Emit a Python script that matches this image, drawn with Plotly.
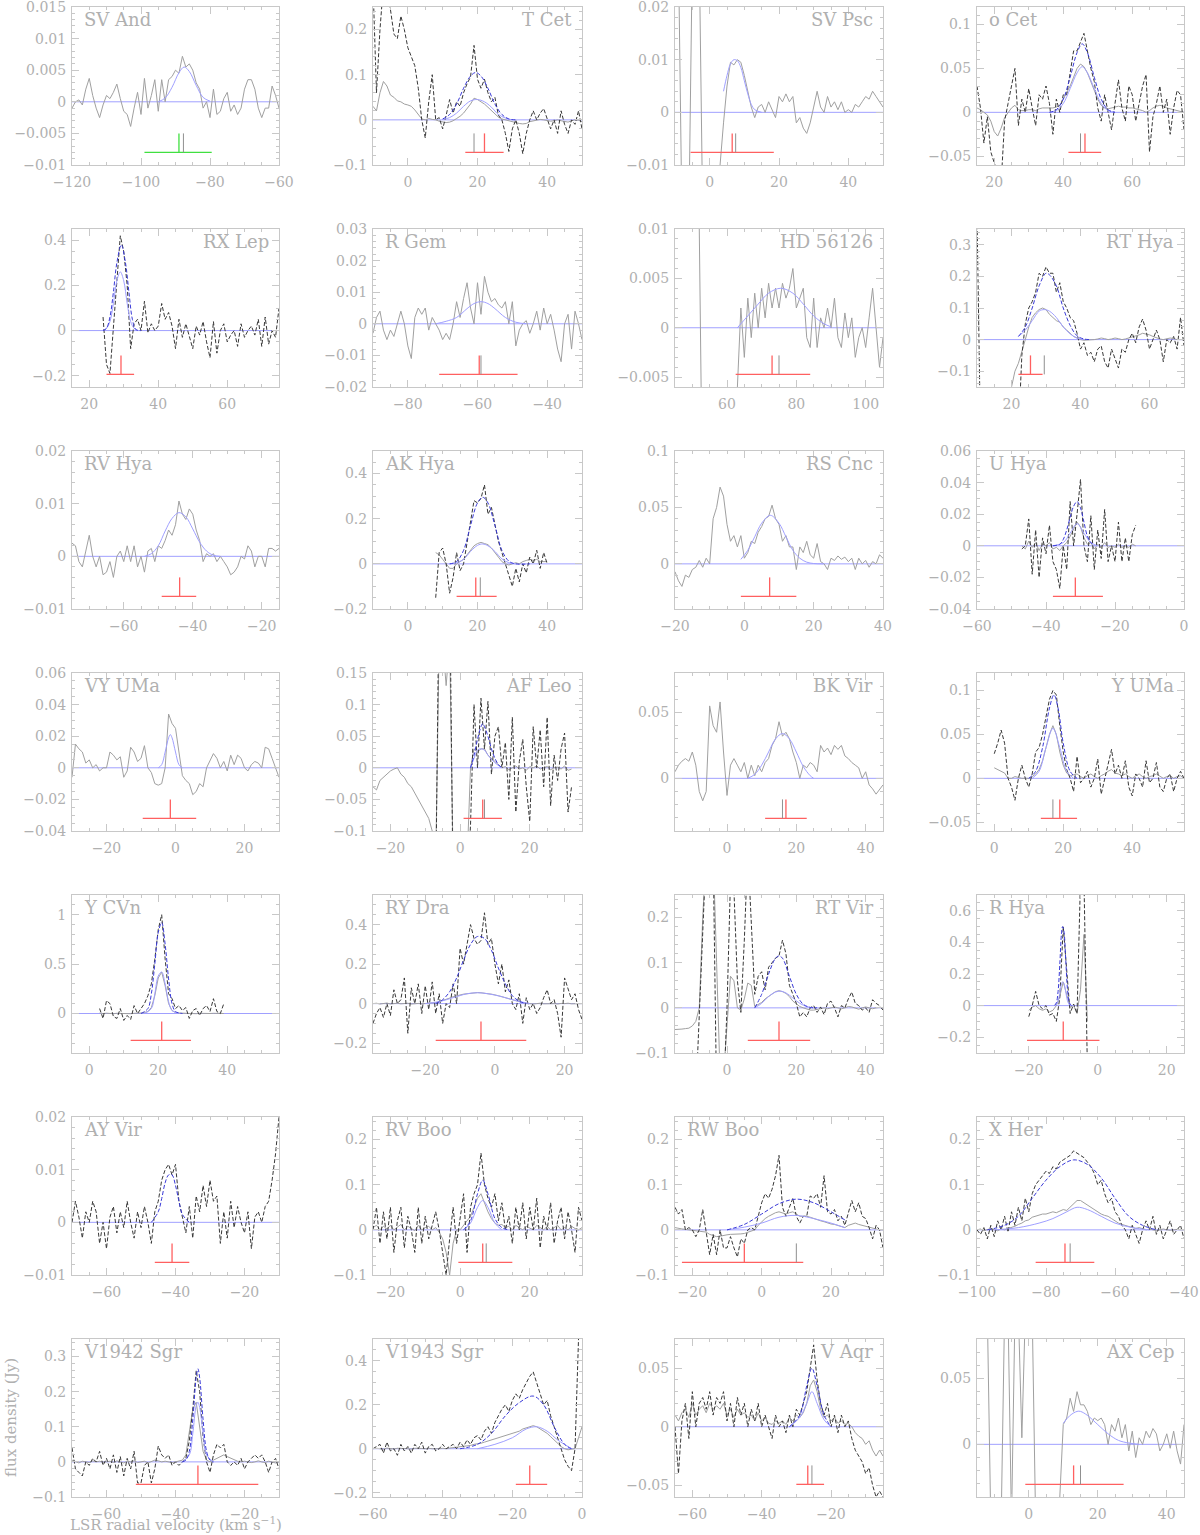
import plotly.graph_objects as go

MJY = 0.001  # all spectra and fits below are typed in mJy, one channel per km/s

# ---------------- SV And ----------------
sv_and_v0 = -120
sv_and_grey = [-1, 0, 0.3, -0.5, 2, 3.7, 1, -1, -2.5, -0.5,
               1, 0.5, 1.5, 2.8, 0.5, -1.5, -2, -3.9, -1, 1.5,
               -2, 3.7, -1, 1, 3.5, -1.5, 3.5, 0, 3.5, 4,
               5, 4.5, 7.2, 5.5, 6, 5, 3, 2, -1, 0,
               -2.5, 2, -2, -1.5, 0.5, 1.5, -1.5, -0.5, -2, -1,
               2, 3.5, 3.5, 2, -1, -2.5, -1, -1, 2.5, 1,
               -1]
sv_and_fit = [(-95, 0), (-93, 0.6), (-91, 2.3), (-89, 4.6), (-87.5, 5.5), (-86, 4.8), (-84, 2.6), (-82, 0.7), (-80, 0.1)]
sv_and_marks = (-99, -79.5, -89, -87.7)

# ---------------- T Cet ----------------
t_cet_v0 = -10
t_cet_grey = [30, 20, 60, 85, 75, 55, 50, 42, 40, 35,
              33, 30, 22, 12, 2, 0, 3, 1, 0, -3,
              -5, -6, -5, -2, 3, 8, 15, 25, 35, 48,
              45, 40, 35, 28, 20, 12, 6, 2, 0, -3,
              -5, -7, -8, -9, -8, -4, -2, 0, 1, 0,
              -1, -3, -2, 0, -2, -4, -5, -2, 0, -1,
              -4]
t_cet_dash = [300, 60, 200, 300, 300, 250, 190, 180, 230, 200,
              160, 140, 120, 70, 0, -40, 40, 100, 0, 5,
              -20, 10, 45, 15, 40, 30, 60, 80, 95, 165,
              90, 70, 90, 60, 40, 50, 10, 0, -30, -70,
              -20, 0, -30, -75, -30, 0, 20, 0, 15, 25,
              0, -20, 0, -30, 20, -10, -30, 0, -10, 20,
              -20]
t_cet_fitd = [(10, 2), (12, 12), (14, 35), (16, 70), (18, 97), (19.5, 105), (21, 97), (23, 70), (25, 35), (27, 12), (29, 2), (31, 0)]
t_cet_fit = [(10, 1), (12, 5), (14, 15), (16, 30), (18, 42), (20, 45), (22, 40), (24, 28), (26, 12), (28, 4), (30, 0)]
t_cet_marks = (16.5, 27.5, 22, 19)

# ---------------- SV Psc ----------------
sv_psc_v0 = -10
sv_psc_grey = [30, 30, -20, -20, -20, 30, 30, 30, -20, -20,
               -20, -20, -25, -10, -2, 5, 9.5, 9, 10, 9.5,
               7, 4, 1, -1, 1, 1.5, 0, 2, 0.5, -1,
               3, 2, 3.5, 2, 3, -2, -1, -3, -4, -2,
               1, 4, 1, 0, 3, 1, 2, 0.5, 2, 0,
               0.5, 0, 1.5, 1, 2, 3, 2.5, 4, 3, 2,
               1]
sv_psc_fit = [(4, 4), (5, 7), (6, 9.2), (7, 10), (8, 9.8), (9, 8.5), (10, 6), (11, 3.5), (12, 1.5), (13, 0.5), (15, 0)]
sv_psc_marks = (-5.5, 18.5, 6.5, 7.5)

# ---------------- o Cet ----------------
o_cet_v0 = 15
o_cet_grey = [5, 3, 0, -3, -10, -22, -27, -18, -6, 0,
              5, 8, 3, 2, 2, 3, 3, 2, 4, 5,
              5, 5, 5, 6, 8, 15, 22, 30, 40, 50,
              55, 52, 45, 35, 25, 15, 8, 5, 4, 5,
              6, 7, 6, 6, 5, 5, 4, 3, 2, 0,
              2, 5, 7, 8, 7, 5, 4, 3, 2, 1,
              0]
o_cet_dash = [30, 5, -35, -5, -45, -60, -70, -80, -10, 10,
              30, 50, -15, 15, 0, 27, 5, -15, 20, 15,
              30, 10, -25, 15, 0, 20, 20, 45, 70, 70,
              80, 90, 70, 50, 35, 5, -10, 20, 0, -20,
              10, 37, 5, -10, 30, 20, -10, 10, 30, 43,
              -45, -5, 10, 30, 0, 15, -25, 5, 25, 20,
              -20]
o_cet_fitd = [(36, 0), (38, 3), (40, 15), (42, 40), (44, 68), (45.5, 78), (47, 68), (49, 40), (51, 15), (53, 3), (55, 0)]
o_cet_fit = [(36, 0), (38, 2), (40, 10), (42, 27), (44, 45), (45.5, 52), (47, 45), (49, 27), (51, 10), (53, 2), (55, 0)]
o_cet_marks = (41.5, 51, 46.3, 45)

# ---------------- RX Lep ----------------
rx_lep_v0 = 24
rx_lep_dash = [60, -150, -190, 0, 200, 420, 350, 200, -80, 30,
               50, 0, 130, -10, 30, 0, 20, 120, 50, 80,
               20, -80, 50, -30, 30, -20, -80, 20, -20, 40,
               -50, -120, 40, -100, 0, 30, -50, -20, 0, -70,
               30, -30, 0, 20, -20, 50, -70, 60, -60, 0,
               -30, 100]
rx_lep_fitd = [(24, 0), (25, 10), (26, 60), (27, 170), (28, 300), (29.3, 380), (30.5, 300), (31.5, 170), (32.5, 50), (33.5, 5), (35, 0)]
rx_lep_fit = [(24, 0), (25, 10), (26, 40), (27, 120), (28, 220), (29, 260), (30, 220), (31, 120), (32, 40), (33, 10), (34, 0)]
rx_lep_marks = (25, 33, 29.2, None)

# ---------------- R Gem ----------------
r_gem_v0 = -90
r_gem_grey = [-3, 2, 4, -2, -5, -2, -4, 0, 4, 0,
              -7, -11, 2, 5, 3, 5, -2, 2, 0, -2,
              -5, -3, -5, 0, 7, 2, 8, 13, 5, 0,
              13, 3, 15, 10, 7, 8, 6, 5, 7, 0,
              7, -7, -2, 0, 1, -3, 0, 4, -2, 5,
              0, 3, -2, -8, -12, 0, 3, -8, 4, 0,
              -5]
r_gem_fit = [(-72, 0), (-69, 0.8), (-66, 2), (-63, 4.8), (-61, 6.4), (-59, 7), (-57, 6.4), (-55, 4.8), (-52, 2), (-49, 0.5), (-46, 0)]
r_gem_marks = (-71, -48.5, -59.5, -59)

# ---------------- HD 56126 ----------------
hd56126_v0 = 45
hd56126_grey = [12, 12, 12, 12, 12, 12, 12, 10, -20, -20,
                -20, -20, -20, -20, -20, -20, -20, -20, -6, 2,
                -3, 3, -1, 3.5, 0, 4, 1, 4.5, 2, 4,
                2, 4.5, 3, 4, 6, 2, 3, 4, -1, -2,
                3, -2, 1, 0, 2, 0, 3, -1, -2, 1.5,
                -1, 1, -3, -1, 0, -2, 1, 4, 0, -4,
                -1]
hd56126_fit = [(63, 0), (66, 1.2), (69, 2.4), (72, 3.5), (75.5, 4), (79, 3.5), (82, 2.4), (85, 1.2), (88, 0.4), (90, 0.1)]
hd56126_marks = (62.5, 84, 73, 75)

# ---------------- RT Hya ----------------
rt_hya_v0 = 10
rt_hya_dash = [400, -300, None, None, None, None, None, None, None, None, None, None,
               -300, -50, 50, 100, 120, 150, 210, 200, 230, 210,
               210, 150, 180, 120, 100, 70, 60, 20, -30, -10,
               -50, -40, -70, -30, -20, -70, -90, -30, -60, -90,
               -30, -40, 0, 20, -10, 40, 65, 30, -30, 0,
               30, 0, -70, 0, -10, 10, -30, 70, -20]
rt_hya_g0 = 19
rt_hya_grey = [-200, -150, -100, -75, -40, 0, 40, 70, 85, 95,
               100, 95, 80, 70, 60, 55, 40, 30, 20, 10,
               5, 0, -2, -2, -1, 0, 2, 5, 3, 0,
               2, 5, 3, 0, 2, 5, 8, 10, 15, 20,
               18, 15, 10, 5, 2, 0, 3, 5, 3, 0, 0, 0]
rt_hya_fitd = [(22, 10), (24, 40), (26, 100), (28, 170), (30, 210), (31, 205), (33, 170), (35, 100), (37, 45), (39, 12), (41, 2), (43, 0)]
rt_hya_fit = [(22, 10), (24, 30), (26, 60), (28, 90), (29.5, 95), (31, 90), (33, 70), (35, 40), (37, 18), (39, 5), (41, 0)]
rt_hya_marks = (22, 29, 25.5, 29.5)

# ---------------- RV Hya ----------------
rv_hya_v0 = -75
rv_hya_grey = [2.5, 2, -1, -2, 1, 4, 0, -2, 0, -3.5,
               -3, -1, -4, 0, 1, -1, 2, -1, 2, -2,
               0, -3, 1, 1.5, -1, 2, 1.5, 3, 5, 4,
               6, 10.5, 8, 7, 9, 8, 5, 3, -1, 0.5,
               0, 0.5, -1, 0, -1, -2, -3.5, -3, -2, 0,
               -0.5, 2, 1, -2, 0, 0, -2, 1.5, 1.5, 1, 1.5]
rv_hya_fit = [(-54, 0), (-52, 0.5), (-50, 2), (-48, 4.8), (-46, 7.2), (-44, 8.3), (-42, 7.5), (-40, 5.2), (-38, 2.7), (-36, 1), (-34, 0.2), (-32, 0)]
rv_hya_marks = (-49, -39, -43.8, None)

# ---------------- AK Hya ----------------
ak_hya_v0 = 8
ak_hya_dash = [-150, 50, 70, 0, -130, -60, 50, -30, 0, 100,
               200, 280, 270, 290, 350, 220, 250, 180, 100, 50,
               0, -50, -100, -20, -80, 0, -40, 30, 0, 60,
               -20, 50, 0]
ak_hya_grey = [50, 40, 20, 0, -20, -20, 0, 10, 20, 40,
               60, 80, 90, 95, 90, 85, 70, 50, 30, 10,
               0, -5, 0, 5, 0, 10, 15, 20, 15, 20,
               10, 10, 10]
ak_hya_fitd = [(12, 0), (14, 10), (16, 60), (18, 170), (20, 270), (21.5, 295), (23, 270), (25, 170), (27, 60), (29, 12), (31, 0), (35, 0)]
ak_hya_fit = [(12, 0), (14, 5), (16, 20), (18, 55), (20, 82), (21.5, 88), (23, 80), (25, 55), (27, 22), (29, 5), (31, 0)]
ak_hya_marks = (14, 25.5, 19.5, 20.8)

# ---------------- RS Cnc ----------------
rs_cnc_v0 = -20
rs_cnc_grey = [-7, -15, -20, -10, -12, -5, -3, 3, -3, 5,
               0, 40, 50, 68, 60, 35, 20, 25, 15, 25,
               5, 10, 20, 18, 28, 33, 40, 42, 52, 40,
               35, 20, 25, 15, 15, -5, 15, 10, 20, 8,
               5, 18, 2, 0, -5, 5, 3, 7, 4, 6,
               2, 5, -5, 5, 0, 3, -3, 2, 0, 8,
               5]
rs_cnc_fit = [(-1, 4), (1, 12), (3, 24), (5, 36), (7.5, 43), (10, 36), (12, 24), (14, 12), (16, 5), (18, 1.5), (20, 0.3), (23, 0)]
rs_cnc_marks = (-1, 15, 7.3, None)

# ---------------- U Hya ----------------
u_hya_v0 = -47
u_hya_dash = [-2, 0, 17, -18, 10, -20, 5, -5, 13, -10,
              -15, -27, 0, -15, 28, 0, 20, 42, 0, -10,
              19, -15, 10, -8, 23, -10, 0, -10, 15, -10,
              5, -10, 7, 13]
u_hya_grey = [0, -2, 3, -1, 2, -3, 1, 0, 2, -2,
              -1, -3, 0, 2, 6, 11, 15, 12, 5, 1,
              2, -2, 1, -1, 2, -1, 0, -1, 1, -1,
              0, -1, 1, 0]
u_hya_fitd = [(-38, 0), (-36, 1), (-35, 4), (-34, 10), (-33, 18), (-32, 25), (-31, 28), (-30, 24), (-29, 15), (-28, 6), (-27, 2), (-26, 0)]
u_hya_fit = [(-38, 0), (-35, 2), (-33, 8), (-31, 14), (-29, 8), (-27, 2), (-25, 0)]
u_hya_marks = (-38, -23.5, -31.5, None)

# ---------------- VY UMa ----------------
vy_uma_v0 = -30
vy_uma_grey = [-6, 15, 12, 10, 3, 5, 0, 2, -2, 0,
               0, 10, 8, 5, 7, -6, -2, 13, 10, 4,
               6, 14, 0, -3, -10, -11, -10, 0, 34, 28,
               25, 10, -5, -8, -10, -17, -15, -10, -12, 0,
               5, 9, 6, 0, 4, -2, 8, 2, 8, 6,
               0, -2, 2, 4, 3, 0, 13, 12, 6, 0,
               -6]
vy_uma_fit = [(-5, 0), (-4, 2), (-3, 10), (-2, 19), (-1.5, 21), (-1, 19), (0, 10), (1, 2), (2, 0)]
vy_uma_marks = (-9.5, 6, -1.5, None)

# ---------------- AF Leo ----------------
af_leo_v0 = -25
af_leo_grey = [-30, -35, -20, -15, -10, -5, -2, 0, -10, -15,
               -25, -30, -40, -50, -60, -70, -80, -100, -150, 200,
               200, 130, 200, -150, -150, -150, -150, -150, 0, 30,
               25, 30, 30, 20, 15, 10, 5, 0, 2, -3,
               0, 3, -2, 0, -4, 2, 0, 3, -2, 0,
               2, -3, 0, 1, -2, 3, -4, -2]
af_leo_d0 = -7
af_leo_dash = [-200, 300, 300, 300, 300, -200, -200, -200, -200, -200,
               -90, 100, 0, 110, 30, 105, -10, 50, 65, 0,
               40, -50, 80, -70, 10, 45, -30, -85, 65, 0,
               60, -30, 80, -60, 20, -20, 30, 55, -70, -30]
af_leo_fitd = [(3, 0), (4, 20), (5, 45), (6, 65), (6.5, 70), (7, 65), (8, 50), (9, 30), (10, 15), (11, 5), (12, 0)]
af_leo_fit = [(3, 0), (4, 15), (5, 28), (6, 30), (7, 28), (8, 20), (10, 8), (12, 0)]
af_leo_marks = (1, 12, 6.5, 7)

# ---------------- BK Vir ----------------
bk_vir_v0 = -15
bk_vir_grey = [5, 10, 13, 15, 13, 20, 10, -10, -17, -10,
               55, 40, 35, 58, 20, -13, 10, 15, 10, 5,
               12, 0, 10, 2, 10, 5, 12, 15, 25, 30,
               43, 32, 35, 30, 20, 12, 0, 10, 8, 12,
               10, 5, 25, 20, 23, 18, 25, 22, 25, 17,
               15, 12, 10, 8, 0, 5, -5, -8, -12, -8,
               -5]
bk_vir_fit = [(6, 0), (8, 3), (10, 10), (12, 20), (14, 30), (16, 34), (18, 30), (20, 20), (22, 9), (24, 2), (25, 0)]
bk_vir_marks = (11, 23, 17, 16)

# ---------------- Y UMa ----------------
y_uma_v0 = 0
y_uma_dash = [28, 40, 55, 40, 0, -10, -25, 0, 15, 0,
              -10, 5, 30, 35, 50, 70, 90, 100, 95, 60,
              30, 10, 0, -15, 25, -5, 0, 8, -10, 0,
              22, -18, 0, 15, 33, 5, 15, 0, 20, -10,
              -20, 5, 0, -10, 20, -5, 0, 18, -10, -15,
              0, 5, -15, 0, 8, 0]
y_uma_grey = [12, 10, 8, 6, 0, 0, 2, 1, 0, 0,
              0, 2, 5, 10, 20, 35, 50, 60, 50, 30,
              15, 6, 3, 4, 5, 2, 0, 3, 5, 2,
              0, 3, 5, 8, 10, 6, 5, 3, 5, 2,
              0, 3, 5, 2, 0, 2, 3, 5, 2, 0,
              2, 3, 0, 2, 3, 0]
y_uma_fitd = [(10, 0), (12, 8), (14, 35), (16, 80), (17.3, 95), (18.5, 80), (20, 40), (22, 8), (24, 0)]
y_uma_fit = [(11, 0), (13, 8), (15, 35), (17, 57), (19, 35), (21, 8), (23, 0)]
y_uma_marks = (13.5, 24, 19, 17)

# ---------------- Y CVn ----------------
y_cvn_v0 = 3
y_cvn_dash = [50, -50, 130, 100, -30, -50, 50, -70, -20, -60,
              80, 0, 50, 100, 180, 300, 550, 850, 1000, 550,
              200, 150, 50, 80, 30, 60, -50, 30, 50, -20,
              50, 80, 20, 150, 20, 0, 100]
y_cvn_grey = [5, 0, 3, 0, -2, 2, 0, -3, 0, -2,
              2, 0, 5, 10, 20, 60, 180, 360, 420, 280,
              100, 30, 10, 5, 3, 0, 2, 0, -2, 2,
              0, 3, 0, 2, 0, -2, 0]
y_cvn_fitd = [(15, 0), (17, 50), (18, 200), (19, 500), (20, 820), (21, 920), (22, 700), (23, 350), (24, 100), (25, 20), (27, 0)]
y_cvn_fit = [(16, 0), (18, 50), (19, 200), (20, 380), (21, 420), (22, 300), (23, 120), (24, 30), (26, 0)]
y_cvn_marks = (12, 29.5, 21, None)

# ---------------- RY Dra ----------------
ry_dra_v0 = -35
ry_dra_dash = [-100, -50, -20, -70, 0, -60, 70, 0, 20, 130,
               -150, 80, 0, 100, -50, 90, -30, 110, -50, 50,
               -100, 0, -20, 100, 0, 280, 200, 300, 400, 330,
               300, 320, 460, 300, 330, 200, 100, 200, 60, 120,
               0, -30, 50, -100, 30, -30, 0, -50, -20, 30,
               70, 0, 20, -50, -170, 130, 80, 20, 50, -30,
               -80]
ry_dra_grey = [0, 2, -2, 0, 3, -2, 0, 2, -1, 0,
               2, -2, 0, 1, -1, 0, 2, 3, 5, 10,
               15, 20, 28, 35, 40, 45, 48, 50, 53, 55,
               56, 55, 54, 50, 48, 45, 40, 35, 30, 25,
               18, 12, 8, 5, 2, 0, -2, 0, 2, -1,
               0, 2, 0, -2, 1, 0, 2, -1, 0, 1,
               0]
ry_dra_fitd = [(-17, 0), (-15, 20), (-13, 60), (-11, 130), (-9, 220), (-7, 300), (-5, 340), (-3, 330), (-1, 270), (1, 180), (3, 100), (5, 40), (7, 12), (9, 0)]
ry_dra_fit = [(-20, 0), (-16, 10), (-12, 30), (-8, 50), (-5, 55), (-2, 50), (2, 35), (6, 15), (10, 0)]
ry_dra_marks = (-17, 9, -4, None)

# ---------------- RT Vir ----------------
rt_vir_v0 = -15
rt_vir_grey = [-48, -48, -47, -46, -45, -40, -30, 0, 200, 350,
               350, 350, 100, -150, -150, -50, 70, 60, 0, -5,
               20, 55, 50, 3, 8, 12, 20, 26, 32, 36,
               38, 36, 32, 25, 15, 8, 3, 0, -3, -5,
               -5, -4, -2, 0, -2, 0, 2, 0, -2, 0,
               3, 2, 0, -3, 0, 2, 0, -2, 0, 1,
               0]
rt_vir_d0 = -9
rt_vir_dash = [-200, -20, 150, 350, 350, 350, -200, -200, -200, 0,
               280, 260, 60, -10, 150, 350, 200, 30, 70, 80,
               40, 90, 100, 110, 115, 150, 120, 50, 30, 10,
               -20, -10, -20, 0, 5, -10, 2, -15, 10, 15,
               0, -20, 5, 0, 20, 35, 10, 5, -5, 0,
               -10, 18, 10, 5, -5]
rt_vir_fitd = [(8, 0), (10, 30), (12, 75), (14, 110), (15, 115), (16, 110), (18, 70), (20, 30), (22, 8), (24, 1), (26, 0)]
rt_vir_fit = [(8, 0), (10, 10), (12, 25), (14, 35), (15.5, 37), (17, 33), (19, 22), (21, 10), (23, 3), (25, 0)]
rt_vir_marks = (6, 24, 15, None)

# ---------------- R Hya ----------------
r_hya_v0 = -20
r_hya_dash = [-70, 0, 90, 0, -20, 0, -60, -50, -100, 50,
              500, 200, -50, 10, -50, 800, 800, -400]
r_hya_grey = [-30, -10, 0, -20, -30, -20, -40, -30, 0, 60,
              150, 60, -10, 0, -50, 100, 450, -100]
r_hya_fitd = [(-12.5, 2), (-12, 18), (-11.5, 90), (-11, 260), (-10.5, 460), (-10.2, 500), (-9.8, 470), (-9.3, 300), (-8.8, 110), (-8.3, 25), (-7.8, 3), (-7, 0)]
r_hya_fit = [(-12.5, 1), (-12, 6), (-11.5, 27), (-11, 78), (-10.5, 138), (-10.2, 150), (-9.8, 140), (-9.3, 90), (-8.8, 33), (-8.3, 8), (-7.8, 1), (-7, 0)]
r_hya_marks = (-20.5, 0.5, -10, None)

# ---------------- AY Vir ----------------
ay_vir_v0 = -70
ay_vir_dash = [0, 4, 1, -3, 2, 0, 4, 2, -4, 0,
               -5, 1, 3, -2, 2, -1, 4, 0, -3, 2,
               -1, 3, 0, -4, 2, 4, 8, 10, 11, 9,
               11, 4, 1, -2, 3, -3, 5, 2, 7, 3,
               8, 4, 5, -4, 2, -3, 4, -1, 3, 0,
               -2, 2, -5, 1, 2, 0, 3, 4, 8, 13,
               20]
ay_vir_fitd = [(-47, 0), (-45, 2), (-44, 4.5), (-43, 7.5), (-42, 9), (-41, 9), (-40, 7), (-39, 4), (-38, 1.5), (-36, 0)]
ay_vir_marks = (-46, -36, -41, None)

# ---------------- RV Boo ----------------
rv_boo_v0 = -25
rv_boo_grey = [5, 10, 0, 8, 2, 10, 0, 5, 12, 0,
               8, 3, -2, 10, 0, 5, 8, 0, 5, -5,
               -20, -50, -100, -30, 0, 0, 10, 20, 30, 50,
               70, 80, 60, 40, 25, 15, 10, 12, 5, 8,
               0, 10, 5, 0, 8, 3, 0, 10, 5, 0,
               8, 0, 5, 10, 0, 5, 0, 8, 3, 0,
               5]
rv_boo_dash = [0, 50, -30, 40, -20, 50, -50, 20, 50, -40,
               30, 0, -50, 50, -30, 30, -20, 10, 40, 0,
               -50, -100, -20, 50, -30, 20, 80, -50, 50, 80,
               100, 170, 100, 70, 50, 80, 20, 60, 0, 30,
               -30, 50, 0, 60, -20, 50, 0, 70, -40, 30,
               0, 60, -30, 20, 50, -20, 40, 0, -50, 50,
               20]
rv_boo_fitd = [(1, 0), (3, 20), (5, 80), (6.5, 110), (8, 80), (10, 25), (12, 5), (14, 0)]
rv_boo_fit = [(1, 0), (3, 15), (5, 50), (6.5, 65), (8, 50), (10, 15), (12, 0)]
rv_boo_marks = (-0.5, 15, 6.5, 7.5)

# ---------------- RW Boo ----------------
rw_boo_v0 = -25
rw_boo_dash = [50, 35, 45, 0, 5, 0, -15, 0, 45, -10,
               -55, -10, -55, 0, -40, -40, -15, -40, -60, -20,
               -30, 0, 5, 0, 30, 60, 80, 70, 90, 120,
               165, 50, 30, 50, 70, 30, 15, 30, 30, 75,
               70, 80, 50, 120, 40, 35, 45, 20, 30, 10,
               35, 65, 40, 60, 30, 25, 5, -20, 10, 0,
               -40]
rw_boo_grey = [5, 3, 2, 1, 0, 0, -1, -2, -3, -5,
               -10, -12, -15, -14, -12, -11, -10, -10, -10, -9,
               -8, -5, -3, 0, 10, 18, 25, 30, 35, 38,
               40, 38, 35, 38, 40, 35, 30, 30, 30, 28,
               25, 23, 20, 18, 15, 13, 12, 10, 8, 5,
               10, 12, 15, 12, 10, 8, 5, 3, 2, 0,
               0]
rw_boo_fitd = [(-10, 0), (-5, 12), (0, 35), (5, 58), (10, 68), (15, 60), (20, 40), (24, 22)]
rw_boo_fit = [(-10, 0), (-5, 6), (0, 15), (5, 28), (10, 32), (15, 25), (20, 15), (24, 5)]
rw_boo_marks = (-23, 12, -5, 10)

# ---------------- X Her ----------------
x_her_v0 = -100
x_her_dash = [0, -10, 5, -20, 10, -15, 20, 0, 30, -5,
              40, 10, 50, 20, 70, 40, 80, 100, 110, 120,
              130, 125, 140, 135, 150, 155, 160, 165, 175, 170,
              165, 160, 150, 140, 125, 100, 110, 80, 60, 70,
              40, 30, 10, 0, -20, 10, -10, -30, 0, 20,
              0, 30, -10, 10, -20, 0, 20, -10, 0, 10,
              -20]
x_her_grey = [0, 2, -2, 0, 3, 0, -2, 2, 0, 3,
              5, 8, 12, 15, 20, 22, 28, 30, 32, 35,
              35, 37, 40, 38, 42, 45, 43, 50, 58, 65,
              65, 60, 55, 50, 45, 40, 35, 32, 30, 25,
              20, 15, 12, 10, 8, 5, 3, 5, 2, 0,
              2, 0, -2, 0, 2, 0, -1, 0, 1, 0,
              0]
x_her_fitd = [(-97, 0), (-92, 10), (-88, 30), (-84, 70), (-80, 110), (-76, 140), (-72, 155), (-68, 145), (-64, 115), (-60, 70), (-56, 30), (-52, 10), (-48, 0)]
x_her_fit = [(-95, 0), (-88, 5), (-82, 15), (-78, 25), (-74, 40), (-71, 50), (-68, 45), (-64, 30), (-60, 15), (-55, 5), (-50, 0)]
x_her_marks = (-83, -66, -74.5, -73)

# ---------------- V1942 Sgr ----------------
v1942_v0 = -70
v1942_dash = [40, -20, -30, -40, 0, -10, 10, 0, 30, -10,
              10, -20, 20, -30, 15, -40, 10, -20, 30, -60,
              -60, -10, 0, -60, -20, 45, 20, 10, 20, -10,
              0, -10, 0, 10, 60, 150, 260, 200, 70, 0,
              -30, 20, 50, 40, 50, 0, -10, 0, -10, 10,
              -20, 0, 10, 20, 10, 20, 0, -30, 0, 10,
              -20]
v1942_grey = [5, 0, -3, 2, 0, -2, 3, 0, 2, -1,
              0, 2, -2, 3, 0, -3, 2, 0, 3, -2,
              0, 2, -3, 0, 5, 3, 0, 2, 0, -2,
              0, 2, 5, 20, 80, 150, 170, 100, 30, 5,
              0, 5, 10, 15, 20, 15, 10, 5, 2, 0,
              2, 0, -2, 0, 3, 0, -2, 2, 0, -3,
              0]
v1942_fitd = [(-38, 0), (-37, 5), (-36, 30), (-35, 120), (-34, 240), (-33.5, 265), (-33, 240), (-32, 120), (-31, 30), (-30, 5), (-29, 0)]
v1942_fit = [(-38, 0), (-36, 20), (-35, 80), (-34, 160), (-33.5, 170), (-33, 155), (-32, 80), (-31, 20), (-29, 0)]
v1942_marks = (-51.5, -16, -33.5, None)

# ---------------- V1943 Sgr ----------------
v1943_v0 = -60
v1943_dash = [0, 10, 20, -20, 30, -10, 0, -30, 20, -10,
              10, -20, 20, 0, 30, -20, 10, 20, -10, 0,
              20, 0, 10, 20, 0, 30, 10, 40, 20, 50,
              60, 40, 80, 100, 70, 120, 150, 180, 200, 170,
              220, 250, 230, 270, 300, 330, 350, 300, 260, 200,
              220, 150, 100, 50, 0, -50, -80, -100, 0, 500,
              800]
v1943_grey = [0, 2, 0, -2, 3, 0, -1, 2, 0, 1,
              0, -2, 2, 0, 1, 0, 2, 0, -1, 0,
              2, 0, 3, 5, 5, 8, 10, 12, 15, 20,
              22, 25, 30, 35, 40, 45, 50, 55, 60, 65,
              70, 75, 80, 90, 95, 100, 105, 100, 90, 80,
              70, 55, 40, 25, 10, 0, -5, -2, 0, 50,
              100]
v1943_fitd = [(-35, 0), (-30, 20), (-26, 70), (-22, 150), (-18, 210), (-14, 240), (-11, 200), (-8, 100), (-5, 20), (-3, 0)]
v1943_fit = [(-30, 0), (-25, 20), (-20, 50), (-16, 90), (-13, 100), (-10, 80), (-7, 40), (-4, 10), (-3, 0)]
v1943_marks = (-19, -10, -15, None)

# ---------------- V Aqr ----------------
v_aqr_v0 = -65
v_aqr_dash = [0, -40, 5, 20, -10, 30, 0, 20, 25, 15,
              30, 10, 25, 20, 30, 5, 20, 0, 25, 10,
              20, 0, 15, 5, 20, 0, 10, 0, -10, 10,
              0, 5, -5, 10, 0, 15, 10, 20, 30, 50,
              70, 40, 20, 10, 20, 0, 10, -5, 10, 0,
              5, -10, -20, -25, -30, -40, -35, -50, -60, -55,
              -60]
v_aqr_grey = [10, 5, 12, 15, 8, 20, 10, 15, 18, 12,
              20, 15, 18, 15, 20, 10, 15, 8, 15, 10,
              12, 8, 10, 5, 12, 5, 8, 3, 2, 5,
              3, 5, 2, 8, 5, 10, 8, 12, 20, 35,
              40, 30, 15, 8, 10, 5, 8, 3, 5, 2,
              3, 0, -5, -8, -10, -15, -12, -20, -25, -20,
              -25]
v_aqr_fitd = [(-32, 0), (-29, 10), (-27, 35), (-25.5, 50), (-24, 35), (-22, 10), (-20, 0)]
v_aqr_fit = [(-32, 0), (-29, 8), (-27, 20), (-25.5, 30), (-24, 20), (-22, 6), (-20, 0)]
v_aqr_marks = (-30, -22, -26.7, -25.5)

# ---------------- AX Cep ----------------
ax_cep_v0 = -15
ax_cep_grey = [100, 100, 100, 100, -60, -60, -60, -60, 100, 100,
               -60, 100, 100, 5, 100, 100, 100, -60, -60, -60,
               -60, -60, -60, -60, -40, 15, 20, 35, 25, 40,
               30, 30, 25, 15, 20, 18, 20, 15, 0, 15,
               10, 20, 5, 15, -5, 10, -10, 5, 0, 10,
               5, 12, 8, -5, 0, 8, -3, 10, -5, -15,
               15]
ax_cep_fit = [(10, 16), (12, 22), (14, 25), (15, 25), (17, 22), (20, 15), (23, 8), (26, 3), (29, 1), (32, 0)]
ax_cep_marks = (-1, 27.5, 13, 15)

# ---------------- colours / style ----------------
GREY = "#a0a0a0"
DARK = "#383838"
BLUE = "#a0a0ff"
BLUE_D = "#3a3ad8"
RED = "#ff6060"
GREEN = "#40e040"
AXC = "#c8c8c8"
TXT = "#b0b0b0"
FONT = "DejaVu Serif"

# panel list: name, label side, x range, y range, y tick step, curves
panels = [
    dict(name="SV And", side="l", xr=(-120, -60), yr=(-0.01, 0.015), dy=0.005,
         grey=(sv_and_v0, sv_and_grey), fit=sv_and_fit, marks=sv_and_marks, mcol=GREEN),
    dict(name="T Cet", side="r", xr=(-10, 50), yr=(-0.1, 0.25), dy=0.1,
         grey=(t_cet_v0, t_cet_grey), dash=(t_cet_v0, t_cet_dash), fit=t_cet_fit, fitd=t_cet_fitd, marks=t_cet_marks),
    dict(name="SV Psc", side="r", xr=(-10, 50), yr=(-0.01, 0.02), dy=0.01,
         grey=(sv_psc_v0, sv_psc_grey), fit=sv_psc_fit, marks=sv_psc_marks),
    dict(name="o Cet", side="l", xr=(15, 75), yr=(-0.06, 0.12), dy=0.05,
         grey=(o_cet_v0, o_cet_grey), dash=(o_cet_v0, o_cet_dash), fit=o_cet_fit, fitd=o_cet_fitd, marks=o_cet_marks),
    dict(name="RX Lep", side="r", xr=(15, 75), yr=(-0.25, 0.45), dy=0.2,
         dash=(rx_lep_v0, rx_lep_dash), fit=rx_lep_fit, fitd=rx_lep_fitd, marks=rx_lep_marks),
    dict(name="R Gem", side="l", xr=(-90, -30), yr=(-0.02, 0.03), dy=0.01,
         grey=(r_gem_v0, r_gem_grey), fit=r_gem_fit, marks=r_gem_marks),
    dict(name="HD 56126", side="r", xr=(45, 105), yr=(-0.006, 0.01), dy=0.005,
         grey=(hd56126_v0, hd56126_grey), fit=hd56126_fit, marks=hd56126_marks),
    dict(name="RT Hya", side="r", xr=(10, 70), yr=(-0.15, 0.35), dy=0.1,
         grey=(rt_hya_g0, rt_hya_grey), dash=(rt_hya_v0, rt_hya_dash), fit=rt_hya_fit, fitd=rt_hya_fitd, marks=rt_hya_marks),
    dict(name="RV Hya", side="l", xr=(-75, -15), yr=(-0.01, 0.02), dy=0.01,
         grey=(rv_hya_v0, rv_hya_grey), fit=rv_hya_fit, marks=rv_hya_marks),
    dict(name="AK Hya", side="l", xr=(-10, 50), yr=(-0.2, 0.5), dy=0.2,
         grey=(ak_hya_v0, ak_hya_grey), dash=(ak_hya_v0, ak_hya_dash), fit=ak_hya_fit, fitd=ak_hya_fitd, marks=ak_hya_marks),
    dict(name="RS Cnc", side="r", xr=(-20, 40), yr=(-0.04, 0.1), dy=0.05,
         grey=(rs_cnc_v0, rs_cnc_grey), fit=rs_cnc_fit, marks=rs_cnc_marks),
    dict(name="U Hya", side="l", xr=(-60, 0), yr=(-0.04, 0.06), dy=0.02,
         grey=(u_hya_v0, u_hya_grey), dash=(u_hya_v0, u_hya_dash), fit=u_hya_fit, fitd=u_hya_fitd, marks=u_hya_marks),
    dict(name="VY UMa", side="l", xr=(-30, 30), yr=(-0.04, 0.06), dy=0.02,
         grey=(vy_uma_v0, vy_uma_grey), fit=vy_uma_fit, marks=vy_uma_marks),
    dict(name="AF Leo", side="r", xr=(-25, 35), yr=(-0.1, 0.15), dy=0.05,
         grey=(af_leo_v0, af_leo_grey), dash=(af_leo_d0, af_leo_dash), fit=af_leo_fit, fitd=af_leo_fitd, marks=af_leo_marks),
    dict(name="BK Vir", side="r", xr=(-15, 45), yr=(-0.04, 0.08), dy=0.05,
         grey=(bk_vir_v0, bk_vir_grey), fit=bk_vir_fit, marks=bk_vir_marks),
    dict(name="Y UMa", side="r", xr=(-5, 55), yr=(-0.06, 0.12), dy=0.05,
         grey=(y_uma_v0, y_uma_grey), dash=(y_uma_v0, y_uma_dash), fit=y_uma_fit, fitd=y_uma_fitd, marks=y_uma_marks),
    dict(name="Y CVn", side="l", xr=(-5, 55), yr=(-0.4, 1.2), dy=0.5,
         grey=(y_cvn_v0, y_cvn_grey), dash=(y_cvn_v0, y_cvn_dash), fit=y_cvn_fit, fitd=y_cvn_fitd, marks=y_cvn_marks),
    dict(name="RY Dra", side="l", xr=(-35, 25), yr=(-0.25, 0.55), dy=0.2,
         grey=(ry_dra_v0, ry_dra_grey), dash=(ry_dra_v0, ry_dra_dash), fit=ry_dra_fit, fitd=ry_dra_fitd, marks=ry_dra_marks),
    dict(name="RT Vir", side="r", xr=(-15, 45), yr=(-0.1, 0.25), dy=0.1,
         grey=(rt_vir_v0, rt_vir_grey), dash=(rt_vir_d0, rt_vir_dash), fit=rt_vir_fit, fitd=rt_vir_fitd, marks=rt_vir_marks),
    dict(name="R Hya", side="l", xr=(-35, 25), yr=(-0.3, 0.7), dy=0.2,
         grey=(r_hya_v0, r_hya_grey), dash=(r_hya_v0, r_hya_dash), fit=r_hya_fit, fitd=r_hya_fitd, marks=r_hya_marks),
    dict(name="AY Vir", side="l", xr=(-70, -10), yr=(-0.01, 0.02), dy=0.01,
         dash=(ay_vir_v0, ay_vir_dash), fitd=ay_vir_fitd, marks=ay_vir_marks),
    dict(name="RV Boo", side="l", xr=(-25, 35), yr=(-0.1, 0.25), dy=0.1,
         grey=(rv_boo_v0, rv_boo_grey), dash=(rv_boo_v0, rv_boo_dash), fit=rv_boo_fit, fitd=rv_boo_fitd, marks=rv_boo_marks),
    dict(name="RW Boo", side="l", xr=(-25, 35), yr=(-0.1, 0.25), dy=0.1,
         grey=(rw_boo_v0, rw_boo_grey), dash=(rw_boo_v0, rw_boo_dash), fit=rw_boo_fit, fitd=rw_boo_fitd, marks=rw_boo_marks),
    dict(name="X Her", side="l", xr=(-100, -40), yr=(-0.1, 0.25), dy=0.1,
         grey=(x_her_v0, x_her_grey), dash=(x_her_v0, x_her_dash), fit=x_her_fit, fitd=x_her_fitd, marks=x_her_marks),
    dict(name="V1942 Sgr", side="l", xr=(-70, -10), yr=(-0.1, 0.35), dy=0.1,
         grey=(v1942_v0, v1942_grey), dash=(v1942_v0, v1942_dash), fit=v1942_fit, fitd=v1942_fitd, marks=v1942_marks),
    dict(name="V1943 Sgr", side="l", xr=(-60, 0), yr=(-0.22, 0.5), dy=0.2,
         grey=(v1943_v0, v1943_grey), dash=(v1943_v0, v1943_dash), fit=v1943_fit, fitd=v1943_fitd, marks=v1943_marks),
    dict(name="V Aqr", side="r", xr=(-65, -5), yr=(-0.06, 0.075), dy=0.05,
         grey=(v_aqr_v0, v_aqr_grey), dash=(v_aqr_v0, v_aqr_dash), fit=v_aqr_fit, fitd=v_aqr_fitd, marks=v_aqr_marks),
    dict(name="AX Cep", side="r", xr=(-15, 45), yr=(-0.04, 0.08), dy=0.05,
         grey=(ax_cep_v0, ax_cep_grey), fit=ax_cep_fit, marks=ax_cep_marks),
]

MINOR = {0.005: 0.001, 0.01: 0.002, 0.02: 0.005, 0.05: 0.01, 0.1: 0.02, 0.2: 0.05, 0.5: 0.1}

W, H = 1200, 1535
col_px = [(72, 279), (373, 582), (675, 883), (977, 1184)]
ROW0, ROWSTEP, ROWH = 7, 222, 158


def channels(spec):
    v0, vals = spec
    xs = [v0 + k for k in range(len(vals))]
    ys = [None if v is None else v * MJY for v in vals]
    return xs, ys


def px_x(px):
    return min(1.0, max(0.0, px / W))


def px_y(py):
    return min(1.0, max(0.0, 1 - py / H))


fig = go.Figure()
shapes, annots = [], []

for i, p in enumerate(panels):
    r, c = divmod(i, 4)
    n = "" if i == 0 else str(i + 1)
    xa, ya = "x" + n, "y" + n
    top = ROW0 + ROWSTEP * r
    x0p, x1p = col_px[c]

    axis_common = dict(ticks="inside", ticklen=7, tickcolor=AXC, showline=True, linecolor=AXC,
                       linewidth=1, mirror="ticks", showgrid=False, zeroline=False, automargin=False,
                       ticklabeloverflow="allow",
                       tickfont=dict(family=FONT, size=14, color=TXT))
    xlo, xhi = p["xr"]
    ylo, yhi = p["yr"]
    pad_y = (yhi - ylo) * 1e-6
    fig.update_layout(**{
        "xaxis" + n: dict(axis_common, domain=[px_x(x0p), px_x(x1p)], anchor=ya,
                          range=[xlo - 1e-6, xhi + 1e-6],
                          tick0=0, dtick=20, ticklabelstandoff=4,
                          minor=dict(ticks="inside", ticklen=3, dtick=5, tickcolor=AXC)),
        "yaxis" + n: dict(axis_common, domain=[px_y(top + ROWH), px_y(top)], anchor=xa,
                          range=[ylo - pad_y, yhi + pad_y], tick0=0, dtick=p["dy"], ticklabelstandoff=2,
                          minor=dict(ticks="inside", ticklen=3, dtick=MINOR[p["dy"]], tickcolor=AXC)),
    })

    # zero line
    shapes.append(dict(type="line", xref=xa + " domain", yref=ya, x0=0, x1=1, y0=0, y1=0,
                       line=dict(color=BLUE, width=1), layer="below"))

    if "grey" in p:
        xs, ys = channels(p["grey"])
        fig.add_trace(go.Scatter(x=xs, y=ys, mode="lines", line=dict(color=GREY, width=1),
                                 xaxis=xa, yaxis=ya, showlegend=False, hoverinfo="skip"))
    if "dash" in p:
        xs, ys = channels(p["dash"])
        fig.add_trace(go.Scatter(x=xs, y=ys, mode="lines", line=dict(color=DARK, width=1, dash="4px,2px"),
                                 xaxis=xa, yaxis=ya, showlegend=False, hoverinfo="skip"))
    if "fit" in p:
        fx = [q[0] for q in p["fit"]]
        fy = [q[1] * MJY for q in p["fit"]]
        fig.add_trace(go.Scatter(x=fx, y=fy, mode="lines", line=dict(color=BLUE, width=1, shape="spline"),
                                 xaxis=xa, yaxis=ya, showlegend=False, hoverinfo="skip"))
    if "fitd" in p:
        fx = [q[0] for q in p["fitd"]]
        fy = [q[1] * MJY for q in p["fitd"]]
        fig.add_trace(go.Scatter(x=fx, y=fy, mode="lines",
                                 line=dict(color=BLUE_D, width=1, dash="4px,2px", shape="spline"),
                                 xaxis=xa, yaxis=ya, showlegend=False, hoverinfo="skip"))

    # velocity markers: range bar, stellar velocity (coloured), fitted centre (grey)
    lo, hi, vstar, vfit = p["marks"]
    mcol = p.get("mcol", RED)
    shapes.append(dict(type="line", xref=xa, yref=ya + " domain", x0=lo, x1=hi, y0=0.08, y1=0.08,
                       line=dict(color=mcol, width=1.3)))
    shapes.append(dict(type="line", xref=xa, yref=ya + " domain", x0=vstar, x1=vstar, y0=0.08, y1=0.2,
                       line=dict(color=mcol, width=1.3)))
    if vfit is not None:
        shapes.append(dict(type="line", xref=xa, yref=ya + " domain", x0=vfit, x1=vfit, y0=0.08, y1=0.2,
                           line=dict(color="#909090", width=1)))

    annots.append(dict(text=p["name"], xref=xa + " domain", yref=ya + " domain",
                       x=0.05 if p["side"] == "l" else 0.96, y=0.92,
                       xanchor="left" if p["side"] == "l" else "right", yanchor="middle",
                       showarrow=False, font=dict(family=FONT, size=18, color=TXT)))

annots.append(dict(text="flux density (Jy)", xref="paper", yref="paper", x=px_x(11), y=px_y(1418),
                   textangle=-90, showarrow=False, xanchor="center", yanchor="middle",
                   font=dict(family=FONT, size=15, color=TXT)))
annots.append(dict(text="LSR radial velocity (km s<sup>\u22121</sup>)", xref="paper", yref="paper",
                   x=px_x(176), y=px_y(1524), showarrow=False, xanchor="center", yanchor="middle",
                   font=dict(family=FONT, size=15, color=TXT)))

fig.update_layout(width=W, height=H, margin=dict(l=0, r=0, t=0, b=0),
                  paper_bgcolor="white", plot_bgcolor="white",
                  shapes=shapes, annotations=annots, showlegend=False)

# the page's default 8 px body margin would push the figure off the window corner
fig.write_html("out.html", config={"displayModeBar": False},
               post_script="document.body.style.margin='0px';")
